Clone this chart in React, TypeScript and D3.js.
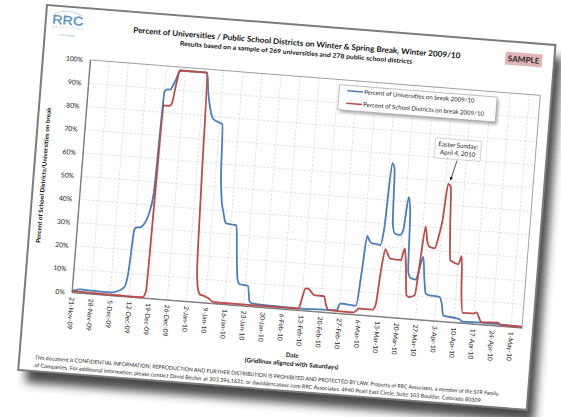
import React, { useEffect, useRef } from 'react';
import * as d3 from 'd3';

// Percent of universities on break (daily readings, key days)
const uniDates = [
  '2009-11-21', '2009-11-24', '2009-11-28', '2009-12-05', '2009-12-08', '2009-12-10', '2009-12-11',
  '2009-12-12', '2009-12-13', '2009-12-14', '2009-12-15', '2009-12-16', '2009-12-17', '2009-12-18',
  '2009-12-19', '2009-12-20', '2009-12-21', '2009-12-22', '2009-12-23', '2009-12-24', '2010-01-03',
  '2010-01-04', '2010-01-05', '2010-01-06', '2010-01-07', '2010-01-08', '2010-01-09', '2010-01-10',
  '2010-01-11', '2010-01-12', '2010-01-13', '2010-01-14', '2010-01-15', '2010-01-18', '2010-01-19',
  '2010-01-20', '2010-01-21', '2010-01-24', '2010-01-25', '2010-01-26', '2010-01-30', '2010-02-06',
  '2010-02-13', '2010-02-20', '2010-02-26', '2010-02-27', '2010-02-28', '2010-03-04', '2010-03-05',
  '2010-03-06', '2010-03-07', '2010-03-08', '2010-03-09', '2010-03-11', '2010-03-12', '2010-03-13',
  '2010-03-14', '2010-03-15', '2010-03-16', '2010-03-17', '2010-03-19', '2010-03-20', '2010-03-21',
  '2010-03-22', '2010-03-23', '2010-03-24', '2010-03-26', '2010-03-27', '2010-03-28', '2010-03-29',
  '2010-03-30', '2010-03-31', '2010-04-04', '2010-04-05', '2010-04-06', '2010-04-11', '2010-04-12',
  '2010-04-13', '2010-04-20', '2010-04-27', '2010-05-05'
];
const uniPct = [
  0.5, 1.5, 1.3, 1.2, 2.2, 4, 10,
  29, 30, 30, 31, 33, 37, 45,
  89, 90, 90, 92, 95, 98.5, 98.5,
  90, 84, 80, 78.5, 78, 77.5, 77,
  55, 44, 39, 35, 34.5, 34.2, 22,
  11, 9, 8.7, 2, 1.3, 1.0, 0.8,
  0.7, 1.0, 1.2, 4, 4.2, 3.8, 4,
  18, 34, 32, 31, 30.8, 30.6, 38,
  66, 64, 40, 36, 35.5, 38, 52,
  45, 20, 17.5, 17, 22, 27, 18,
  11.3, 10.8, 10.4, 8, 2.5, 1.8, 1.5,
  0.6, 0.8, 0.6, 0.3
];

// Percent of public school districts on break
const schoolDates = [
  '2009-11-21', '2009-11-28', '2009-12-05', '2009-12-12', '2009-12-17', '2009-12-18', '2009-12-19',
  '2009-12-20', '2009-12-21', '2009-12-22', '2009-12-23', '2009-12-24', '2010-01-03', '2010-01-04',
  '2010-01-05', '2010-01-06', '2010-01-07', '2010-01-08', '2010-01-09', '2010-01-10', '2010-01-11',
  '2010-01-12', '2010-02-12', '2010-02-13', '2010-02-14', '2010-02-15', '2010-02-16', '2010-02-17',
  '2010-02-18', '2010-02-21', '2010-02-22', '2010-02-23', '2010-03-04', '2010-03-05', '2010-03-06',
  '2010-03-11', '2010-03-12', '2010-03-13', '2010-03-14', '2010-03-15', '2010-03-16', '2010-03-20',
  '2010-03-21', '2010-03-22', '2010-03-23', '2010-03-24', '2010-03-26', '2010-03-27', '2010-03-28',
  '2010-03-29', '2010-03-30', '2010-04-01', '2010-04-02', '2010-04-03', '2010-04-04', '2010-04-05',
  '2010-04-06', '2010-04-07', '2010-04-08', '2010-04-09', '2010-04-10', '2010-04-11', '2010-04-12',
  '2010-04-13', '2010-04-17', '2010-04-18', '2010-04-19', '2010-04-20', '2010-04-26', '2010-04-27',
  '2010-05-05'
];
const schoolPct = [
  0.5, 0.4, 0.3, 0.2, 0.3, 3, 83,
  83, 83, 84, 92, 98.5, 98.5, 55,
  14, 5, 3.2, 3, 2.5, 2, 1,
  0.5, 0.6, 5, 9.5, 9.5, 8.5, 7.2,
  6.9, 6.8, 3, 1, 0.8, 1.5, 2.7,
  2.7, 4.6, 20, 29, 27, 25.1, 24.8,
  30, 22, 10, 9.3, 10.3, 25, 40,
  34, 31.5, 31, 36, 43.3, 59, 58,
  40, 26.4, 25.8, 25.2, 25, 28.6, 12,
  4.3, 4.4, 5, 3, 1, 1.3, 0.6,
  0.3
];

const yTicks = [0, 10, 20, 30, 40, 50, 60, 70, 80, 90, 100];
const seriesNames = [
  'Percent of Universities on break 2009/10',
  'Percent of School Districts on break 2009/10'
];
const easterLabel = ['Easter Sunday:', 'April 4, 2010'];
const easterDate = '2010-04-04';

const App: React.FC = () => {
  const svgRef = useRef<SVGSVGElement>(null);

  useEffect(() => {
    if (!svgRef.current) return;
    const parse = d3.timeParse('%Y-%m-%d');
    const font = 'Lato, "Open Sans", sans-serif';

    const svg = d3.select(svgRef.current);
    svg.selectAll('*').remove();

    const defs = svg.append('defs');
    const f = defs.append('filter').attr('id', 'pageShadow')
      .attr('x', '-10%').attr('y', '-10%').attr('width', '130%').attr('height', '130%');
    f.append('feGaussianBlur').attr('stdDeviation', 5);
    const f2 = defs.append('filter').attr('id', 'boxShadow')
      .attr('x', '-10%').attr('y', '-30%').attr('width', '130%').attr('height', '180%');
    f2.append('feGaussianBlur').attr('stdDeviation', 1.5);
    defs.append('marker').attr('id', 'arrowHead')
      .attr('viewBox', '0 0 10 10').attr('refX', 9).attr('refY', 5)
      .attr('markerWidth', 5).attr('markerHeight', 5).attr('orient', 'auto')
      .append('path').attr('d', 'M0,0 L10,5 L0,10 z').attr('fill', '#111');

    svg.append('rect').attr('width', 561).attr('height', 417).attr('fill', '#fff');

    // the page, tilted
    const pw = 510, ph = 366;
    const page = svg.append('g').attr('transform', 'translate(47,5) rotate(4.5)');
    page.append('rect').attr('x', 8).attr('y', 12).attr('width', pw).attr('height', ph)
      .attr('fill', '#2a2a2a').attr('opacity', 0.85).attr('filter', 'url(#pageShadow)');
    page.append('rect').attr('width', pw).attr('height', ph)
      .attr('fill', '#fff').attr('stroke', '#7b7b7b').attr('stroke-width', 2);

    // logo
    const logo = page.append('g');
    logo.append('path').attr('d', 'M8,8 Q22,1 36,8').attr('fill', 'none')
      .attr('stroke', '#9cc1e2').attr('stroke-width', 0.6);
    logo.append('text').attr('x', 22).attr('y', 18).attr('text-anchor', 'middle')
      .attr('font-family', '"Liberation Sans", sans-serif').attr('font-size', 12.5)
      .attr('textLength', 31).attr('lengthAdjust', 'spacingAndGlyphs')
      .attr('fill', '#5f9bd0').attr('stroke', '#3d7dba').attr('stroke-width', 0.3).text('RRC');
    logo.append('text').attr('x', 22).attr('y', 22).attr('text-anchor', 'middle')
      .attr('font-family', font).attr('font-size', 2.6).attr('textLength', 30)
      .attr('fill', '#6fa3d4').text('A S S O C I A T E S');
    logo.append('text').attr('x', 22).attr('y', 29.5).attr('text-anchor', 'middle')
      .attr('font-family', font).attr('font-size', 2.4).attr('fill', '#6f8fb8').text('a STR company');

    // titles
    page.append('text').attr('x', 252).attr('y', 20.8).attr('text-anchor', 'middle')
      .attr('font-family', font).attr('font-weight', 700).attr('font-size', 7.8)
      .attr('textLength', 328).attr('lengthAdjust', 'spacingAndGlyphs').attr('fill', '#111')
      .text('Percent of Universities / Public School Districts on Winter & Spring Break, Winter 2009/10');
    page.append('text').attr('x', 252).attr('y', 30).attr('text-anchor', 'middle')
      .attr('font-family', font).attr('font-weight', 700).attr('font-size', 6.3)
      .attr('textLength', 233).attr('lengthAdjust', 'spacingAndGlyphs').attr('fill', '#111')
      .text('Results based on a sample of 269 universities and 278 public school districts');

    // SAMPLE stamp
    page.append('rect').attr('x', 461).attr('y', 10.5).attr('width', 37).attr('height', 13)
      .attr('fill', '#e3b4b6');
    page.append('text').attr('x', 479.5).attr('y', 20).attr('text-anchor', 'middle')
      .attr('font-family', font).attr('font-weight', 700).attr('font-size', 8.2)
      .attr('fill', '#2a2a2a').text('SAMPLE');

    // plot
    const left = 47.3, right = 498.8, top = 51.4, bottom = 284.4;
    const start = parse('2009-11-21') as Date;
    const end = parse('2010-05-05') as Date;
    const x = d3.scaleTime().domain([start, end]).range([left, right]);
    const y = d3.scaleLinear().domain([0, 100]).range([bottom, top]);
    const saturdays = d3.timeSaturday.range(start, d3.timeDay.offset(end, 1));

    const grid = page.append('g').attr('stroke', '#cfcfcf').attr('stroke-width', 0.6)
      .attr('stroke-dasharray', '2.5,1.6');
    grid.selectAll('line.v').data(saturdays.slice(1)).enter().append('line')
      .attr('x1', d => x(d)).attr('x2', d => x(d)).attr('y1', top).attr('y2', bottom);
    grid.selectAll('line.h').data(yTicks.slice(1, -1)).enter().append('line')
      .attr('x1', left).attr('x2', right).attr('y1', d => y(d)).attr('y2', d => y(d));

    page.append('rect').attr('x', left).attr('y', top).attr('width', right - left)
      .attr('height', bottom - top).attr('fill', 'none').attr('stroke', '#8c8c8c').attr('stroke-width', 0.8);

    const xAxis = page.append('g').attr('transform', `translate(0,${bottom})`)
      .call(d3.axisBottom(x).tickValues(saturdays).tickFormat(d3.timeFormat('%-d-%b-%y') as any).tickSize(0));
    xAxis.select('.domain').attr('stroke', '#6e6e6e').attr('stroke-width', 0.9);
    xAxis.selectAll('text')
      .attr('transform', 'rotate(90)').attr('x', 5).attr('y', 0).attr('dy', '0.35em')
      .attr('text-anchor', 'start').attr('fill', '#222')
      .attr('font-family', font).attr('font-size', 6.6);

    const yAxis = page.append('g').attr('transform', `translate(${left},0)`)
      .call(d3.axisLeft(y).tickValues(yTicks).tickFormat(d => `${d}%`).tickSize(0).tickPadding(7));
    yAxis.select('.domain').attr('stroke', '#6e6e6e').attr('stroke-width', 0.9);
    yAxis.selectAll('text').attr('fill', '#222').attr('font-family', font).attr('font-size', 6.8);

    // axis titles
    page.append('text').attr('transform', `translate(12,${(top + bottom) / 2 + 2}) rotate(-90)`)
      .attr('text-anchor', 'middle').attr('font-family', font).attr('font-weight', 700)
      .attr('font-size', 6).attr('textLength', 136).attr('lengthAdjust', 'spacingAndGlyphs')
      .attr('fill', '#111').text('Percent of School Districts/Universities on break');
    page.append('text').attr('x', 272).attr('y', 332).attr('text-anchor', 'middle')
      .attr('font-family', font).attr('font-weight', 700).attr('font-size', 6).attr('fill', '#111').text('Date');
    page.append('text').attr('x', 272).attr('y', 340.5).attr('text-anchor', 'middle')
      .attr('font-family', font).attr('font-weight', 700).attr('font-size', 6.2)
      .attr('textLength', 94).attr('lengthAdjust', 'spacingAndGlyphs')
      .attr('fill', '#111').text('(Gridlines aligned with Saturdays)');

    // series
    const line = d3.line<[Date, number]>()
      .x(d => x(d[0])).y(d => y(d[1])).curve(d3.curveMonotoneX);
    const uni: [Date, number][] = uniDates.map((d, i) => [parse(d) as Date, uniPct[i]]);
    const school: [Date, number][] = schoolDates.map((d, i) => [parse(d) as Date, schoolPct[i]]);
    const colors = ['#4a7ebb', '#be4b48'];

    page.append('path').datum(uni).attr('d', line).attr('fill', 'none')
      .attr('stroke', colors[0]).attr('stroke-width', 1.8).attr('stroke-linejoin', 'round');
    page.append('path').datum(school).attr('d', line).attr('fill', 'none')
      .attr('stroke', colors[1]).attr('stroke-width', 1.8).attr('stroke-linejoin', 'round');

    // legend
    const lg = page.append('g').attr('transform', 'translate(298,56.5)');
    lg.append('rect').attr('x', 2).attr('y', 2.5).attr('width', 158).attr('height', 25)
      .attr('fill', '#8a8a8a').attr('filter', 'url(#boxShadow)').attr('opacity', 0.7);
    lg.append('rect').attr('width', 158).attr('height', 25)
      .attr('fill', '#fff').attr('stroke', '#a3a3a3').attr('stroke-width', 0.7);
    seriesNames.forEach((name, i) => {
      const yy = 5.5 + i * 12.5;
      lg.append('line').attr('x1', 8).attr('x2', 24).attr('y1', yy).attr('y2', yy)
        .attr('stroke', colors[i]).attr('stroke-width', 1.6);
      lg.append('text').attr('x', 25).attr('y', yy + 2).attr('font-family', font)
        .attr('font-size', 6.1).attr('fill', '#222').text(name);
    });

    // Easter annotation
    const eDate = parse(easterDate) as Date;
    const eVal = schoolPct[schoolDates.indexOf(easterDate)];
    const ax = x(eDate) + 2, ay = y(eVal) - 4;
    const bx = ax + 5, by = ay - 31;
    page.append('rect').attr('x', bx - 23).attr('y', by - 10).attr('width', 46).attr('height', 20)
      .attr('fill', '#fff').attr('stroke', '#a8a8a8').attr('stroke-width', 0.5);
    easterLabel.forEach((t, i) => {
      page.append('text').attr('x', bx).attr('y', by - 2 + i * 8).attr('text-anchor', 'middle')
        .attr('font-family', font).attr('font-size', 6.2).attr('fill', '#222').text(t);
    });
    page.append('line').attr('x1', bx).attr('y1', by + 11).attr('x2', ax).attr('y2', ay)
      .attr('stroke', '#111').attr('stroke-width', 0.7).attr('marker-end', 'url(#arrowHead)');

    // footer
    page.append('text').attr('x', 15.7).attr('y', 354).attr('font-family', font)
      .attr('font-size', 5.4).attr('textLength', 465).attr('lengthAdjust', 'spacingAndGlyphs').attr('fill', '#222')
      .text('This document is CONFIDENTIAL INFORMATION; REPRODUCTION AND FURTHER DISTRIBUTION IS PROHIBITED AND PROTECTED BY LAW.  Property of RRC Associates, a member of the STR Family');
    page.append('text').attr('x', 15.7).attr('y', 362).attr('font-family', font)
      .attr('font-size', 5.4).attr('textLength', 449).attr('lengthAdjust', 'spacingAndGlyphs').attr('fill', '#222')
      .text('of Companies.  For additional information, please contact David Becher at 303.396.1631, or david@rrcassoc.com RRC Associates, 4940 Pearl East Circle, Suite 103 Boulder, Colorado 80309.');
  }, []);

  return (
    <svg ref={svgRef} width={561} height={417}
      style={{ position: 'absolute', left: 0, top: 0, display: 'block' }} />
  );
};

export default App;
